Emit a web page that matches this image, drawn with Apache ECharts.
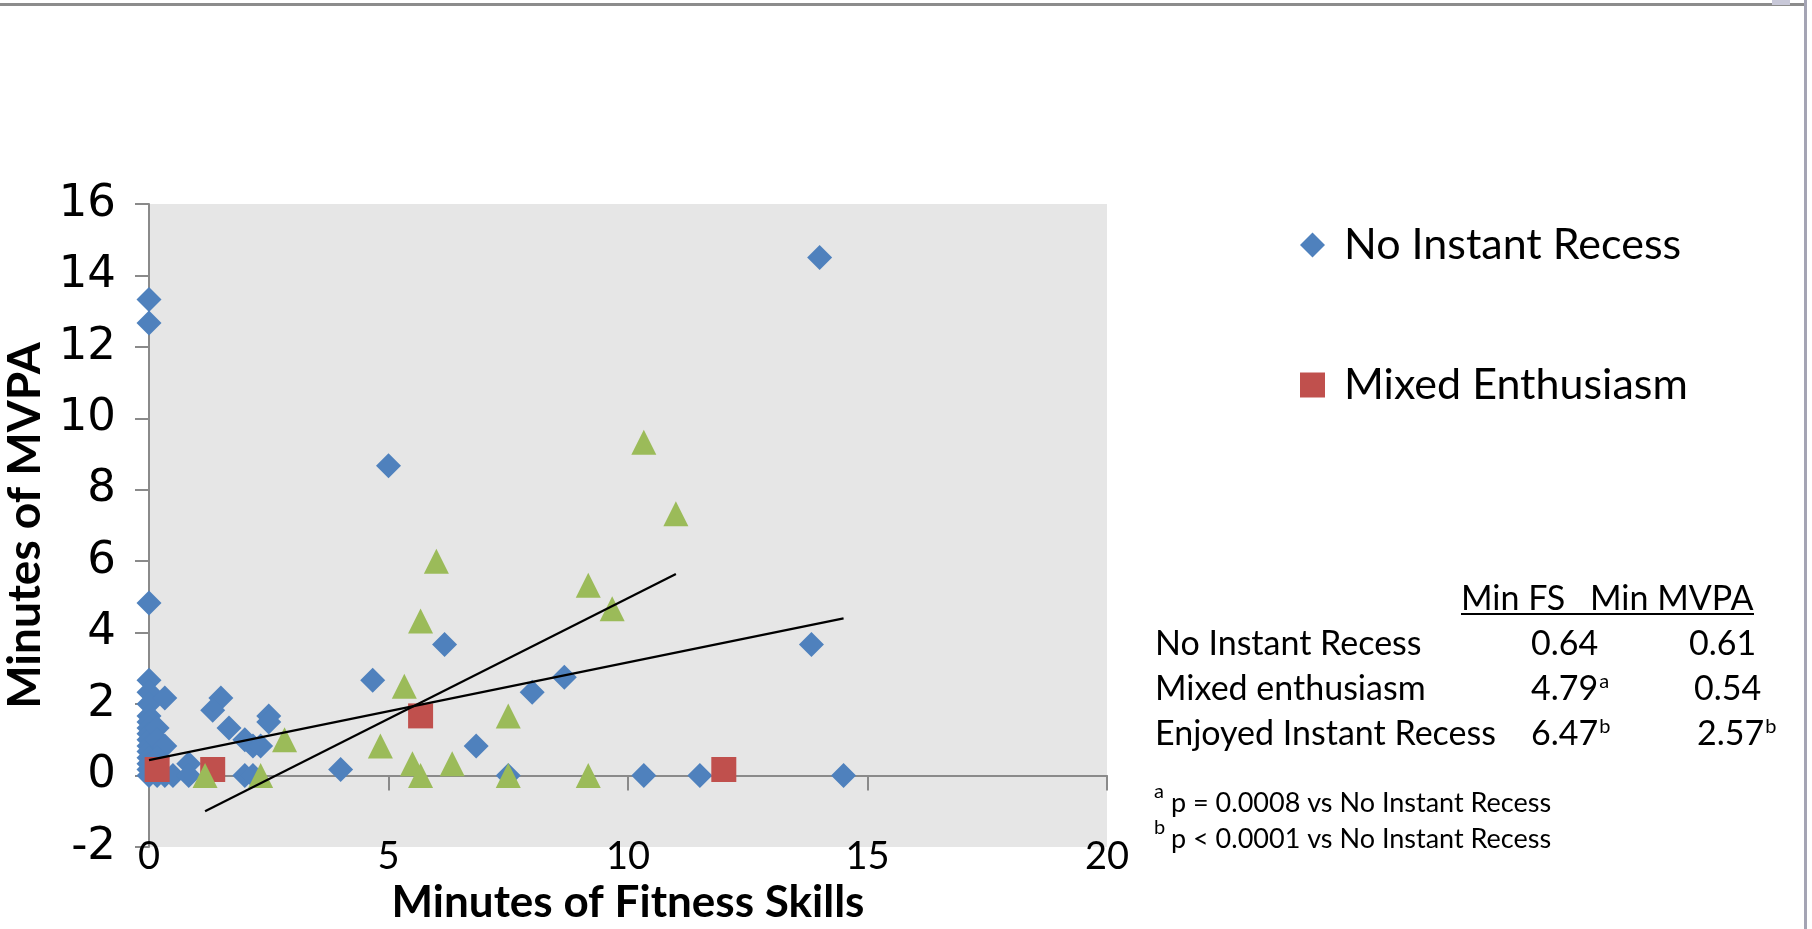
<!DOCTYPE html>
<html><head><meta charset="utf-8">
<script src="https://cdn.jsdelivr.net/npm/echarts@6/dist/echarts.min.js"></script>
<style>html,body{margin:0;padding:0;background:#fff}#c{width:1812px;height:929px}</style>
</head><body><div id="c"></div>
<script>
// ---- data ----
const seriesNames = ['No Instant Recess', 'Mixed Enthusiasm', 'Enjoyed Instant Recess'];
const noRecess = [
  [0,13.33],[0,12.67],[0,4.83],[0,2.67],[0,2.33],[0,2.0],[0,1.67],[0,1.5],[0,1.33],[0,1.17],
  [0,1.0],[0,0.83],[0,0.67],[0,0.5],[0,0.33],[0,0.17],[0,0],
  [0.17,1.33],[0.17,1.0],[0.33,0.83],[0.17,0.5],[0.17,0],[0.33,0],[0.5,0],[0.33,2.17],
  [0.83,0.33],[0.83,0],
  [1.5,2.17],[1.33,1.83],[1.67,1.33],[2.0,1.0],[2.17,0.83],[2.33,0.83],[2.5,1.67],[2.5,1.5],
  [2.0,0],[2.17,0],[4.0,0.17],[4.67,2.67],[5.0,8.67],[6.17,3.67],[6.83,0.83],[7.5,0],
  [8.0,2.33],[8.67,2.75],[10.33,0],[11.5,0],[13.83,3.67],[14.0,14.5],[14.5,0]
];
const mixed = [[0.17,0.17],[1.33,0.17],[5.67,1.67],[12.0,0.17]];
const enjoyed = [
  [1.17,0],[2.33,0],[2.83,1.0],[4.83,0.83],[5.33,2.5],[5.5,0.33],[5.67,0],[5.67,4.33],
  [6.0,6.0],[6.33,0.33],[7.5,1.67],[7.5,0],[9.17,0],[9.17,5.33],[9.67,4.67],[10.33,9.33],[11.0,7.33]
];
const noRecessTrend = [[0,0.43],[14.5,4.4]];
const enjoyedTrend = [[1.17,-1.0],[11.0,5.64]];
const xTitle = 'Minutes of Fitness Skills';
const yTitle = 'Minutes of MVPA';
const tableHeader = ['Min FS', 'Min MVPA'];
const tableRows = ['No Instant Recess', 'Mixed enthusiasm', 'Enjoyed Instant Recess'];
const minFS = ['0.64', '4.79', '6.47'];
const minFSsup = ['', 'a', 'b'];
const minMVPA = ['0.61', '0.54', '2.57'];
const minMVPAsup = ['', '', 'b'];
const footnotes = [['a', 'p = 0.0008 vs No Instant Recess'], ['b', 'p < 0.0001 vs No Instant Recess']];

// ---- chart ----
const FONT = 'Lato, "Open Sans", sans-serif';
const WIDE = '"DejaVu Sans", sans-serif';
const chart = echarts.init(document.getElementById('c'), null, {renderer: 'canvas'});
const axisGray = '#8a8a8a';

const g = [];
// frame lines
g.push({type:'rect', shape:{x:0,y:3,width:1806,height:3}, style:{fill:'#8c8c8c'}, silent:true});
g.push({type:'rect', shape:{x:1804,y:0,width:3,height:929}, style:{fill:'#a4a4b4'}, silent:true});
g.push({type:'rect', shape:{x:1772,y:0,width:18,height:5}, style:{fill:'#c8c8d8'}, silent:true});

// table
const rowY = [644, 689, 734];
const col2X = [1689, 1694, 1697];
const fsz = 34;
const rich = {
  n: {fontSize: fsz, fontFamily: FONT, fill: '#000', lineHeight: 38},
  s: {fontSize: 20, fontFamily: FONT, fill: '#000', lineHeight: 38, verticalAlign: 'top', padding:[2,0,0,1]}
};
g.push({type:'text', style:{text: tableHeader[0], x:1461, y:599, font: fsz+'px '+FONT, fill:'#000', textVerticalAlign:'middle'}, silent:true});
g.push({type:'text', style:{text: tableHeader[1], x:1590, y:599, font: fsz+'px '+FONT, fill:'#000', textVerticalAlign:'middle'}, silent:true});
g.push({type:'line', shape:{x1:1461,y1:614,x2:1754,y2:614}, style:{stroke:'#000', lineWidth:2}, silent:true});
tableRows.forEach((r, i) => {
  g.push({type:'text', style:{text: r, x:1155, y:rowY[i], font: fsz+'px '+FONT, fill:'#000', textVerticalAlign:'middle'}, silent:true});
  g.push({type:'text', style:{text: '{n|'+minFS[i]+'}' + (minFSsup[i] ? '{s|'+minFSsup[i]+'}' : ''), rich: rich, x:1531, y:rowY[i], textVerticalAlign:'middle'}, silent:true});
  g.push({type:'text', style:{text: '{n|'+minMVPA[i]+'}' + (minMVPAsup[i] ? '{s|'+minMVPAsup[i]+'}' : ''), rich: rich, x:col2X[i], y:rowY[i], textVerticalAlign:'middle'}, silent:true});
});
const footY = [803, 839];
footnotes.forEach((f, i) => {
  g.push({type:'text', style:{text: f[0], x:1154, y:footY[i]-11, font: '20px '+FONT, fill:'#000', textVerticalAlign:'middle'}, silent:true});
  g.push({type:'text', style:{text: f[1], x:1171, y:footY[i], font: '27px '+FONT, fill:'#000', textVerticalAlign:'middle'}, silent:true});
});

const option = {
  animation: false,
  backgroundColor: '#fff',
  textStyle: {fontFamily: FONT},
  grid: {left:149, right:705, top:204, bottom:82, show:true, backgroundColor:'#e6e6e6', borderWidth:0,
         containLabel:false, outerBoundsMode:'none'},
  legend: {
    data: [seriesNames[0], seriesNames[1]],
    orient: 'vertical', left: 1295, top: 215,
    itemWidth: 25, itemHeight: 25, itemGap: 90,
    textStyle: {fontSize: 43, fontFamily: FONT, color:'#000', lineHeight: 50, padding:[0,0,0,14]}
  },
  xAxis: [{
    type:'value', min:0, max:20, interval:5, position:'bottom',
    axisLine:{show:false, onZero:false}, axisTick:{show:false}, splitLine:{show:false},
    axisLabel:{fontSize:38, color:'#000', margin:-9, fontFamily: FONT},
    name: xTitle, nameLocation:'middle', nameGap: 32,
    nameTextStyle:{fontSize:44, fontWeight:'bold', color:'#000', fontFamily: FONT}
  }, {
    type:'value', min:0, max:20, interval:5, position:'bottom',
    axisLine:{show:true, onZero:true, lineStyle:{color:axisGray, width:2}},
    axisTick:{show:true, inside:false, length:15, lineStyle:{color:axisGray, width:2}},
    axisLabel:{show:false}, splitLine:{show:false}
  }],
  yAxis: {
    type:'value', min:-2, max:16, interval:2,
    axisLine:{show:true, onZero:false, lineStyle:{color:axisGray, width:2}},
    axisTick:{show:true, length:14, lineStyle:{color:axisGray, width:2}},
    splitLine:{show:false},
    axisLabel:{fontSize:45, color:'#000', margin:33, fontFamily: WIDE},
    name: yTitle, nameLocation:'middle', nameGap: 92, nameRotate: 90,
    nameTextStyle:{fontSize:46, fontWeight:'bold', color:'#000', fontFamily: FONT}
  },
  series: [
    {name: seriesNames[0], type:'scatter', data: noRecess, symbol:'diamond', symbolSize:25,
     itemStyle:{color:'#4f81bd', opacity:1}, xAxisIndex:0, z:2},
    {name: seriesNames[1], type:'scatter', data: mixed, symbol:'rect', symbolSize:25,
     itemStyle:{color:'#c0504d', opacity:1}, xAxisIndex:0, z:3},
    {name: seriesNames[2], type:'scatter', data: enjoyed, symbol:'triangle', symbolSize:25,
     itemStyle:{color:'#9bbb59', opacity:1}, xAxisIndex:0, z:4},
    {name:'trend1', type:'line', data: noRecessTrend, symbol:'none', silent:true,
     lineStyle:{color:'#000', width:2.2}, xAxisIndex:0, z:5},
    {name:'trend2', type:'line', data: enjoyedTrend, symbol:'none', silent:true,
     lineStyle:{color:'#000', width:2.2}, xAxisIndex:0, z:5}
  ],
  graphic: g
};
chart.setOption(option);
</script></body></html>
